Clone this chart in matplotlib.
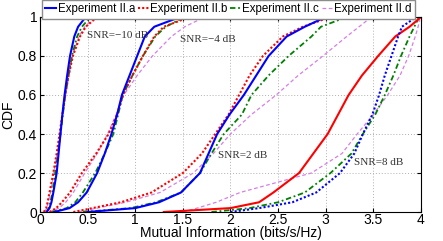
import matplotlib
matplotlib.use("Agg")
import matplotlib.pyplot as plt

# CDF levels (y) and mutual-information values (x)
cdf_levels = [0, 0.02, 0.05, 0.1, 0.2, 0.3, 0.4, 0.5, 0.6, 0.7, 0.8, 0.9, 0.95, 1.0]

# SNR = -10 dB
m10_a = [0.07, 0.10, 0.12, 0.14, 0.175, 0.195, 0.215, 0.235, 0.258, 0.285, 0.315, 0.36, 0.40, 0.48]
m10_b = [0.04, 0.065, 0.08, 0.10, 0.14, 0.175, 0.205, 0.235, 0.265, 0.30, 0.345, 0.42, 0.48, 0.60]
m10_c = [0.07, 0.09, 0.11, 0.13, 0.16, 0.19, 0.215, 0.24, 0.265, 0.30, 0.335, 0.39, 0.44, 0.53]
m10_d = [0.05, 0.07, 0.085, 0.11, 0.145, 0.18, 0.21, 0.24, 0.268, 0.30, 0.34, 0.41, 0.47, 0.58]

# SNR = -4 dB
m4_a = [0.15, 0.31, 0.40, 0.49, 0.60, 0.68, 0.75, 0.81, 0.86, 0.94, 1.02, 1.10, 1.20, 1.47]
m4_b = [0.10, 0.17, 0.23, 0.315, 0.44, 0.59, 0.72, 0.81, 0.87, 0.97, 1.08, 1.20, 1.30, 1.57]
m4_c = [0.12, 0.28, 0.37, 0.45, 0.58, 0.68, 0.77, 0.82, 0.87, 0.97, 1.08, 1.21, 1.32, 1.52]
m4_d = [0.10, 0.20, 0.27, 0.35, 0.47, 0.60, 0.71, 0.80, 0.88, 1.02, 1.18, 1.38, 1.52, 1.73]

# SNR = 2 dB
p2_a = [0.50, 1.00, 1.25, 1.48, 1.68, 1.77, 1.86, 1.99, 2.14, 2.27, 2.40, 2.59, 2.78, 3.00]
p2_b = [0.35, 0.55, 0.85, 1.17, 1.50, 1.70, 1.84, 1.98, 2.09, 2.20, 2.34, 2.55, 2.76, 3.05]
p2_c = [0.45, 0.95, 1.22, 1.48, 1.68, 1.80, 1.93, 2.12, 2.22, 2.40, 2.61, 2.85, 2.95, 3.22]
p2_d = [0.40, 0.60, 0.90, 1.26, 1.61, 1.82, 2.00, 2.22, 2.48, 2.71, 2.97, 3.22, 3.35, 3.48]

# SNR = 8 dB
p8_a = [2.00, 2.30, 2.65, 2.90, 3.15, 3.30, 3.39, 3.49, 3.56, 3.62, 3.69, 3.76, 3.80, 3.95]
p8_b = [1.30, 2.00, 2.30, 2.45, 2.72, 2.87, 3.02, 3.13, 3.24, 3.38, 3.55, 3.73, 3.88, 4.00]
p8_c = [1.80, 2.20, 2.50, 2.78, 3.05, 3.27, 3.39, 3.52, 3.62, 3.71, 3.79, 3.88, 3.93, 3.98]
p8_d = [1.50, 1.65, 1.85, 2.10, 2.85, 3.17, 3.33, 3.50, 3.65, 3.78, 3.87, 3.94, 3.97, 3.99]

labels = ["Experiment II.a", "Experiment II.b", "Experiment II.c", "Experiment II.d"]
snr_texts = ["SNR=\u221210 dB", "SNR=\u22124 dB", "SNR=2 dB", "SNR=8 dB"]
snr_pos = [(0.49, 0.905), (1.47, 0.885), (1.87, 0.29), (3.30, 0.255)]

blue, red, green, pink = "#0000ff", "#ff0000", "#008000", "#d67fe6"
sty_a = dict(color=blue, ls="-", lw=1.5)
sty_b = dict(color=red, ls=(0, (1, 1)), lw=1.5)
sty_c = dict(color=green, ls=(0, (3, 1.5, 1, 1.5)), lw=1.3)
sty_d = dict(color=pink, ls=(0, (3, 2)), lw=0.9)
sty_a8 = dict(color=blue, ls=(0, (1, 1)), lw=1.5)
sty_b8 = dict(color=red, ls="-", lw=1.5)

plt.rcParams['font.family'] = ['Liberation Sans', 'DejaVu Sans']
fig = plt.figure(figsize=(4.43, 2.41), dpi=100)
ax = fig.add_axes([0.0903, 0.1203, 0.86, 0.8092])

groups = [
    (m10_a, m10_b, m10_c, m10_d, sty_a, sty_b),
    (m4_a, m4_b, m4_c, m4_d, sty_a, sty_b),
    (p2_a, p2_b, p2_c, p2_d, sty_a, sty_b),
    (p8_a, p8_b, p8_c, p8_d, sty_a8, sty_b8),
]
handles = []
for gi, (a, b, c, d, sa, sb) in enumerate(groups):
    hd = ax.plot(d, cdf_levels, **sty_d)[0]
    hc = ax.plot(c, cdf_levels, **sty_c)[0]
    hb = ax.plot(b, cdf_levels, **sb)[0]
    ha = ax.plot(a, cdf_levels, **sa)[0]
    if gi == 0:
        handles = [ha, hb, hc, hd]

for t, (x, y) in zip(snr_texts, snr_pos):
    ax.text(x, y, t, family=['Liberation Serif', 'DejaVu Serif'], fontsize=8,
            color="#333333", ha="left", va="center")

ax.set_xlim(0, 4)
ax.set_ylim(0, 1)
ax.set_xticks([0, 0.5, 1, 1.5, 2, 2.5, 3, 3.5, 4])
ax.set_xticklabels(["0", "0.5", "1", "1.5", "2", "2.5", "3", "3.5", "4"])
ax.set_yticks([0, 0.2, 0.4, 0.6, 0.8, 1])
ax.set_yticklabels(["0", "0.2", "0.4", "0.6", "0.8", "1"])
ax.tick_params(direction="in", top=True, right=True, length=3, labelsize=10)
ax.tick_params(axis="x", pad=1)
ax.tick_params(axis="y", pad=2)
ax.grid(True, ls=(0, (1, 2)), color="#b0b0b0", lw=0.7)
ax.set_xlabel("Mutual Information (bits/s/Hz)", fontsize=10, labelpad=-1)
ax.set_ylabel("CDF", fontsize=10, labelpad=2)
for s in ax.spines.values():
    s.set_linewidth(0.8)

leg = fig.legend(handles, labels, loc="upper left",
                 bbox_to_anchor=(42 / 443, 0.93, 373 / 443, 0.07), mode="expand",
                 ncol=4, fontsize=8.3, handlelength=0.95, handletextpad=0.12,
                 columnspacing=0.2, borderpad=0.3, borderaxespad=0.0,
                 fancybox=False, framealpha=1, edgecolor="#8c8c8c")
leg.get_frame().set_linewidth(1.0)

fig.savefig("out.png", dpi=100)
